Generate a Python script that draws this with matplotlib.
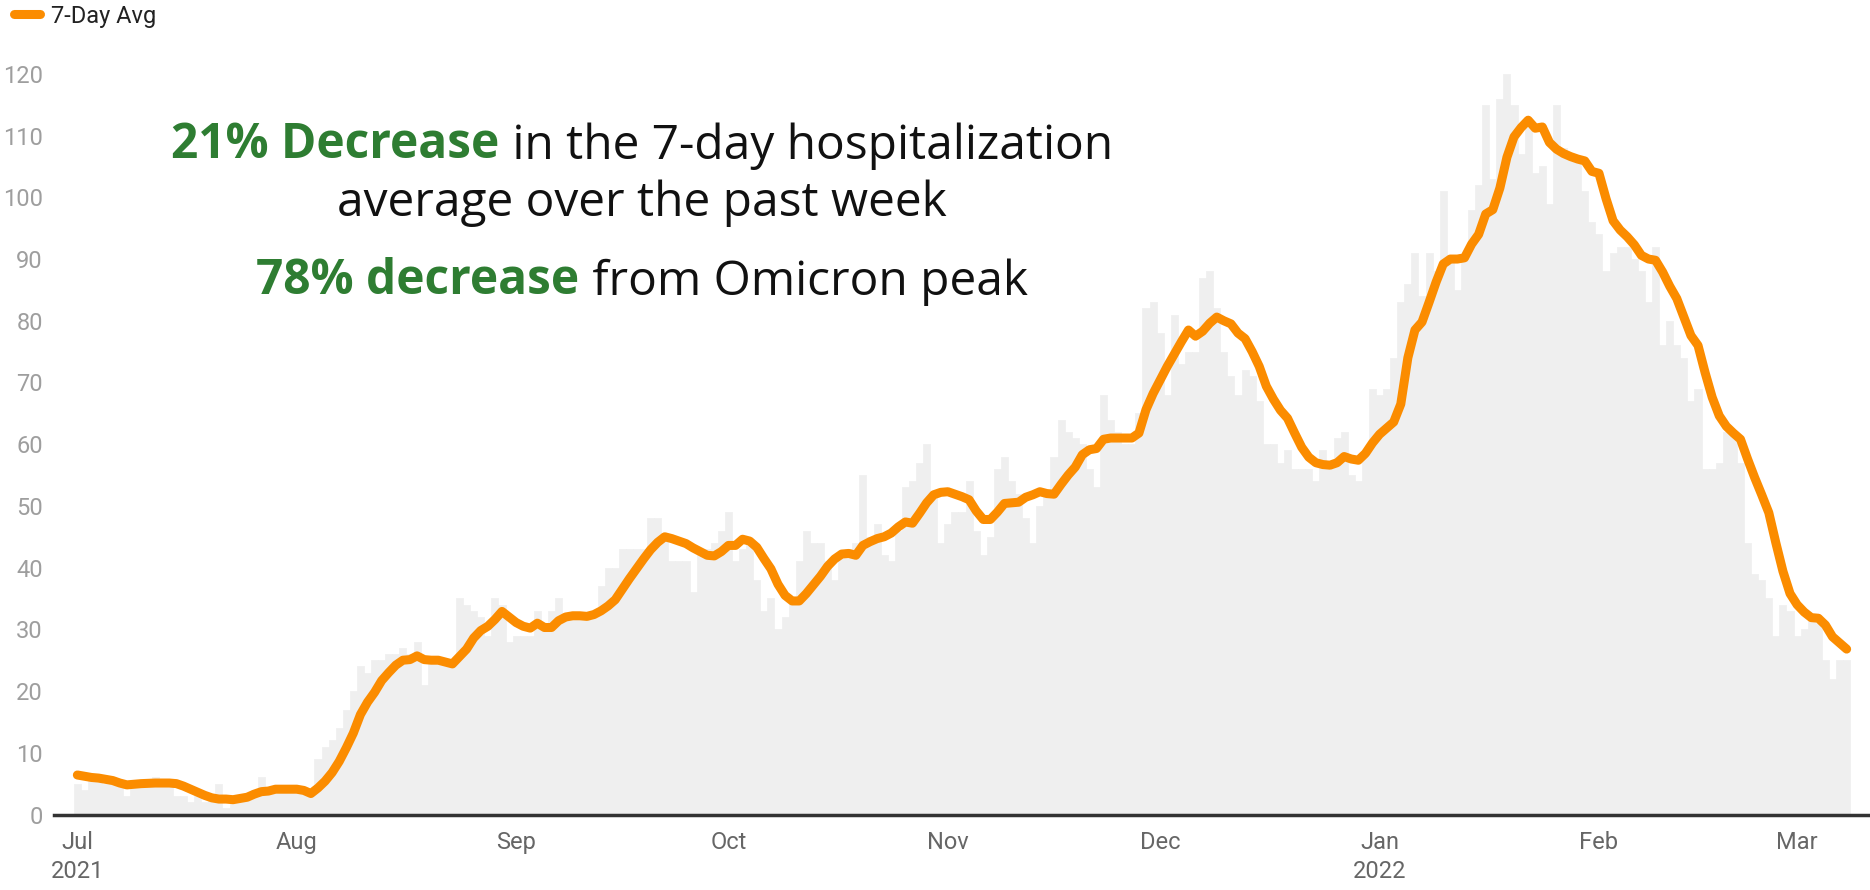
import numpy as np
import pandas as pd
import matplotlib
matplotlib.use("Agg")
import matplotlib.pyplot as plt
from matplotlib.offsetbox import TextArea, HPacker, AnnotationBbox

# Daily hospital admissions (bars) and 7-day average (line), one value per day from 2021-07-01
START = "2021-07-01"

daily_admits = [
    5, 4, 6, 6, 5, 6, 5, 3, 5, 5,
    5, 6, 5, 5, 3, 3, 2, 3, 2, 3,
    5, 1, 2, 3, 3, 4, 6, 4, 4, 4,
    4, 4, 4, 4, 9, 11, 12, 14, 17, 20,
    24, 23, 25, 25, 26, 26, 27, 26, 28, 21,
    25, 25, 25, 24, 35, 34, 33, 32, 29, 35,
    34, 28, 29, 29, 29, 33, 30, 33, 35, 32,
    32, 32, 32, 32, 37, 40, 40, 43, 43, 43,
    43, 48, 48, 45, 41, 41, 41, 36, 42, 43,
    44, 46, 49, 41, 43, 44, 38, 33, 35, 30,
    32, 35, 41, 46, 44, 44, 41, 38, 42, 43,
    44, 55, 45, 47, 42, 41, 46, 53, 54, 57,
    60, 52, 44, 47, 49, 49, 54, 46, 42, 45,
    56, 58, 54, 52, 48, 44, 50, 52, 58, 64,
    62, 61, 60, 56, 53, 68, 64, 62, 60, 60,
    65, 82, 83, 78, 68, 81, 73, 75, 75, 87,
    88, 82, 75, 71, 68, 72, 71, 67, 60, 60,
    57, 59, 56, 56, 56, 54, 59, 57, 61, 62,
    55, 54, 58, 69, 68, 69, 74, 83, 86, 91,
    84, 91, 88, 101, 90, 85, 90, 98, 102, 115,
    103, 116, 120, 115, 107, 112, 104, 105, 99, 115,
    108, 107, 106, 101, 96, 94, 88, 91, 92, 92,
    90, 88, 83, 92, 76, 80, 76, 74, 67, 69,
    56, 56, 57, 62, 62, 57, 44, 39, 38, 35,
    29, 34, 33, 29, 30, 32, 31, 25, 22, 25, 25,
]

avg_7day = [
    6.4, 6.2, 6.0, 5.9, 5.7, 5.5, 5.1, 4.8, 4.9, 5.0,
    5.05, 5.1, 5.1, 5.1, 5.0, 4.6, 4.1, 3.6, 3.1, 2.7,
    2.5, 2.5, 2.4, 2.6, 2.8, 3.3, 3.7, 3.8, 4.1, 4.1,
    4.1, 4.1, 3.9, 3.4, 4.3, 5.4, 6.8, 8.6, 10.8, 13.2,
    16.2, 18.2, 19.8, 21.7, 23.0, 24.2, 25.0, 25.1, 25.7, 25.1,
    25.0, 25.0, 24.7, 24.4, 25.6, 26.8, 28.6, 29.8, 30.5, 31.6,
    32.9, 32.0, 31.1, 30.5, 30.2, 31.0, 30.3, 30.3, 31.4, 32.0,
    32.2, 32.2, 32.1, 32.4, 33.0, 33.8, 34.8, 36.5, 38.2, 39.8,
    41.4, 42.9, 44.1, 45.0, 44.7, 44.3, 43.9, 43.2, 42.6, 42.0,
    41.9, 42.6, 43.6, 43.6, 44.6, 44.3, 43.3, 41.5, 39.8, 37.3,
    35.5, 34.6, 34.6, 35.8, 37.2, 38.6, 40.2, 41.4, 42.2, 42.3,
    42.0, 43.6, 44.2, 44.7, 45.0, 45.6, 46.6, 47.4, 47.2, 48.8,
    50.5, 51.8, 52.2, 52.3, 51.9, 51.5, 51.0, 49.2, 47.8, 47.8,
    49.0, 50.4, 50.5, 50.6, 51.4, 51.8, 52.3, 52.0, 51.9, 53.5,
    55.0, 56.3, 58.3, 59.1, 59.3, 60.8, 61.0, 61.0, 61.0, 61.0,
    61.8, 65.6, 68.2, 70.4, 72.6, 74.6, 76.6, 78.5, 77.5, 78.3,
    79.6, 80.6, 80.0, 79.5, 78.0, 77.1, 75.0, 72.6, 69.4, 67.3,
    65.5, 64.2, 61.8, 59.5, 57.9, 57.0, 56.7, 56.6, 57.0, 58.0,
    57.6, 57.4, 58.5, 60.2, 61.6, 62.6, 63.6, 66.5, 74.0, 78.5,
    79.8, 83.0, 86.3, 89.2, 90.0, 90.0, 90.2, 92.4, 94.0, 97.3,
    98.0, 101.5, 106.5, 109.8, 111.3, 112.5, 111.2, 111.4, 108.9, 107.8,
    107.1, 106.6, 106.2, 105.9, 104.2, 103.9, 99.8, 96.2, 94.7, 93.6,
    92.3, 90.6, 90.0, 89.8, 87.9, 85.6, 83.6, 80.6, 77.6, 76.0,
    71.6, 67.6, 64.6, 62.9, 61.8, 60.8, 57.6, 54.6, 51.8, 48.9,
    44.0, 39.4, 35.8, 34.0, 32.8, 31.9, 31.8, 30.7, 28.8, 27.8, 26.8,
]

month_ticks = ["2021-07-01", "2021-08-01", "2021-09-01", "2021-10-01", "2021-11-01",
               "2021-12-01", "2022-01-01", "2022-02-01", "2022-03-01"]
month_labels = ["Jul\n2021", "Aug", "Sep", "Oct", "Nov", "Dec", "Jan\n2022", "Feb", "Mar"]
y_ticks = list(range(0, 121, 10))

headline_lines = [
    [("21% Decrease", True), (" in the 7-day hospitalization", False)],
    [("average over the past week", False)],
    [("78% decrease", True), (" from Omicron peak", False)],
]

# Style
ORANGE = "#fb8c00"
BAR_GREY = "#efefef"
GREEN = "#2e7d32"
HEAD_FONT = "Open Sans"
HEAD_SIZE = 34.5
TICK_FONT = "Roboto"

W, H = 1870, 890
fig = plt.figure(figsize=(W / 100, H / 100), dpi=100)
ax = fig.add_axes([54 / W, 75.5 / H, 1 - 54 / W, 740.6 / H])

dates = pd.date_range(START, periods=len(daily_admits), freq="D")
ax.bar(dates, daily_admits, width=1.0, color=BAR_GREY, edgecolor=BAR_GREY,
       linewidth=0.5, zorder=1)
ax.plot(dates, avg_7day, color=ORANGE, lw=6.5, solid_capstyle="round",
        solid_joinstyle="round", zorder=3, label="7-Day Avg")

start = pd.Timestamp(START)
ax.set_xlim(start - pd.Timedelta(days=3.3), start + pd.Timedelta(days=253.3))
ax.set_ylim(0, 120)

ax.set_xticks(pd.to_datetime(month_ticks))
ax.set_xticklabels(month_labels, fontfamily=TICK_FONT, linespacing=1.35)
ax.set_yticks(y_ticks)
ax.set_yticklabels([str(v) for v in y_ticks], fontfamily=TICK_FONT)
ax.tick_params(axis="x", length=0, pad=12, labelsize=17, labelcolor="#666666")
ax.tick_params(axis="y", length=0, pad=8, labelsize=17, labelcolor="#9e9e9e")

for side in ("top", "right", "left"):
    ax.spines[side].set_visible(False)
ax.spines["bottom"].set_color("#333333")
ax.spines["bottom"].set_linewidth(2.5)
ax.spines["bottom"].set_zorder(4)

fig.legend(loc="upper left", bbox_to_anchor=(0.005, 1.0), frameon=False,
           handlelength=1.1, handletextpad=0.45, borderaxespad=0.1, borderpad=0.1,
           prop={"family": TICK_FONT, "size": 17}, labelcolor="#222222")

# Headline text, mixed bold/regular, centred over the left part of the chart
line_y = [1 - 146 / H, 1 - 203 / H, 1 - 282 / H]
for parts, y in zip(headline_lines, line_y):
    boxes = [TextArea(t, textprops=dict(fontsize=HEAD_SIZE, family=HEAD_FONT,
                                        fontweight="bold" if b else "normal",
                                        color=GREEN if b else "#111111"))
             for t, b in parts]
    pack = HPacker(children=boxes, align="baseline", pad=0, sep=0)
    fig.add_artist(AnnotationBbox(pack, (642 / W, y), xycoords="figure fraction",
                                  box_alignment=(0.5, 0.5), frameon=False, pad=0))

fig.savefig("out.png", dpi=100)
